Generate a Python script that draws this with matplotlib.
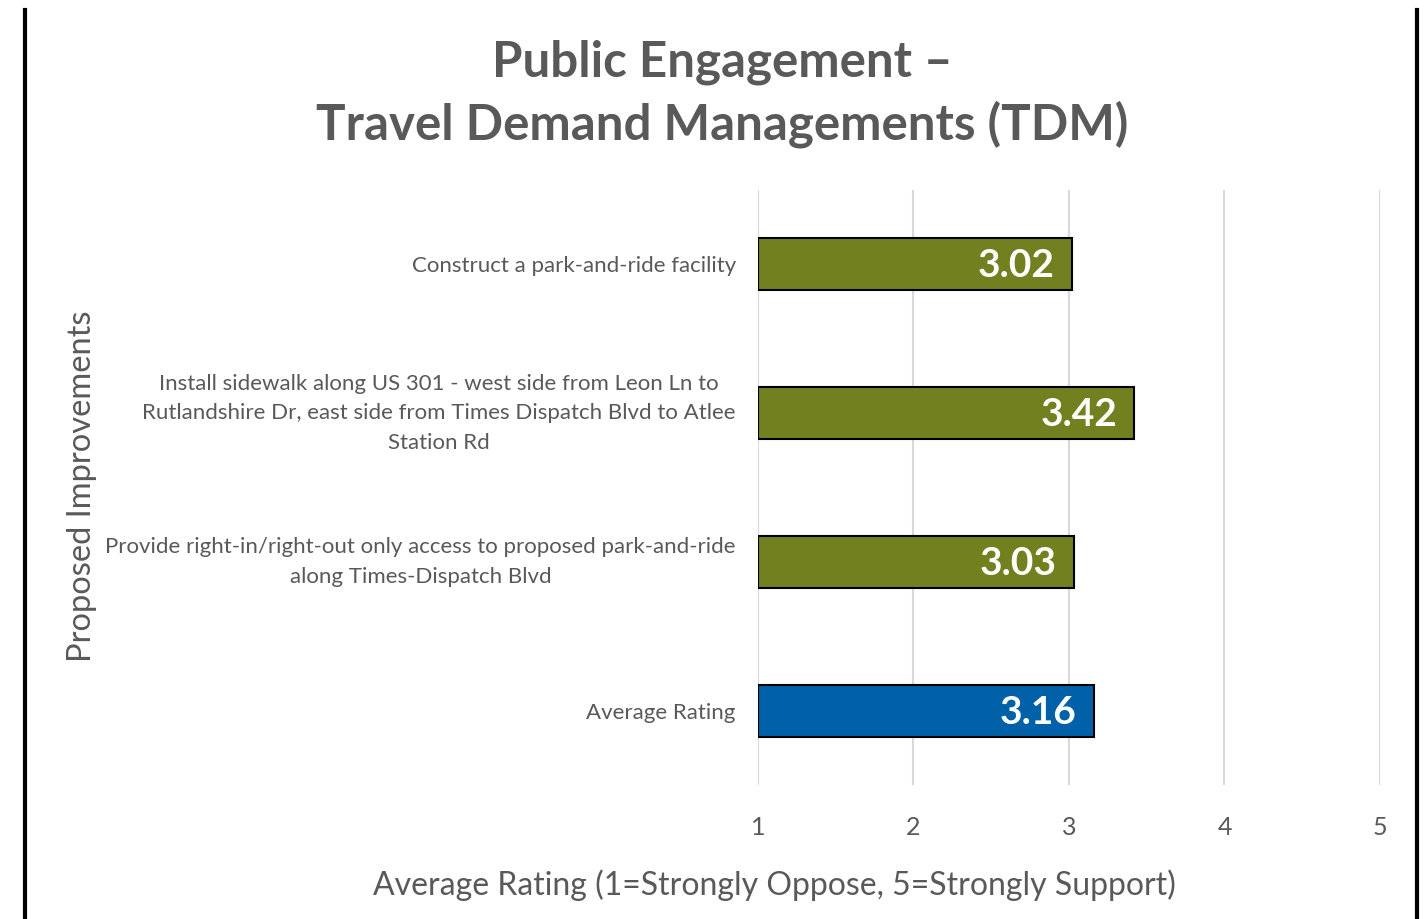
import matplotlib.pyplot as plt
from matplotlib.lines import Line2D

categories = [
    "Construct a park-and-ride facility",
    "Install sidewalk along US 301 - west side from Leon Ln to\nRutlandshire Dr, east side from Times Dispatch Blvd to Atlee\nStation Rd",
    "Provide right-in/right-out only access to proposed park-and-ride\nalong Times-Dispatch Blvd",
    "Average Rating",
]
ratings = [3.02, 3.42, 3.03, 3.16]
bar_colors = ["#72801F", "#72801F", "#72801F", "#0060A8"]
x_ticks = [1, 2, 3, 4, 5]

plt.rcParams["font.family"] = ["Lato", "DejaVu Sans"]
gray = "#595959"

fig = plt.figure(figsize=(14.24, 9.19), dpi=100)
ax = fig.add_axes([0.5323, 0.1458, 0.4368, 0.6475])

ypos = list(range(len(categories)))
ax.barh(ypos, [r - 1 for r in ratings], left=1, height=0.35,
        color=bar_colors, edgecolor="black", linewidth=1.5, zorder=3)

for y, r in zip(ypos, ratings):
    ax.text(r - 0.11, y + 0.01, f"{r:.2f}", ha="right", va="center",
            color="white", fontsize=28, fontweight="bold", zorder=4)

ax.set_xlim(1, 5)
ax.set_ylim(3.5, -0.5)
ax.set_xticks(x_ticks)
ax.set_yticks(ypos)
ax.set_yticklabels(categories, multialignment="center", linespacing=1.6)
for lbl in ax.get_yticklabels():
    if "\n" in lbl.get_text():
        lbl.set_va("center")
ax.tick_params(axis="y", length=0, pad=16, labelsize=16, labelcolor=gray)
ax.tick_params(axis="x", length=0, pad=22, labelsize=18, labelcolor=gray)
ax.grid(axis="x", color="#D9D9D9", linewidth=1.5, zorder=0)
for s in ax.spines.values():
    s.set_visible(False)

fig.text(0.5435, 0.037, "Average Rating (1=Strongly Oppose, 5=Strongly Support)",
         ha="center", va="center", fontsize=23, color=gray)

fig.text(0.0575, 0.471, "Proposed Improvements", rotation=90, ha="center",
         va="center", fontsize=23.5, color=gray)

fig.text(0.507, 0.898, "Public Engagement \u2013\nTravel Demand Managements (TDM)",
         ha="center", va="center", fontsize=35.5, fontweight="bold",
         color=gray, linespacing=1.4)

fig.add_artist(Line2D([0.0179, 0.0179], [0, 0.989], color="black", linewidth=3))
fig.add_artist(Line2D([0.9951, 0.9951], [0, 0.989], color="black", linewidth=3))

fig.savefig("out.png", dpi=100)
